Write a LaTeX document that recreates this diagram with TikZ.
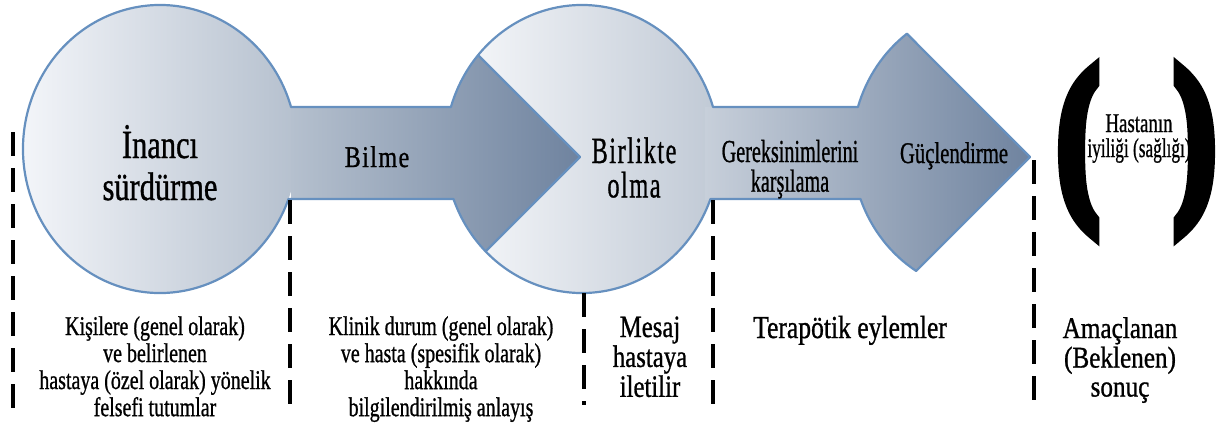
\documentclass[tikz,border=0pt]{standalone}
\usepackage{fontspec}
\usepackage{graphicx}
\setmainfont[FakeBold=1]{Liberation Serif}
\newfontfamily\spacedfont[LetterSpace=6,FakeBold=1]{Liberation Serif}
\newfontfamily\parenfont[FakeBold=10]{Liberation Serif}
\definecolor{outc}{HTML}{6690BF}
\definecolor{eAL}{HTML}{F3F5F9}
\definecolor{eAR}{HTML}{B5C0CE}
\definecolor{eBL}{HTML}{F9FAFC}
\definecolor{eBR}{HTML}{C0C9D5}
\definecolor{bAL}{HTML}{B5C0CE}
\definecolor{bAR}{HTML}{6F839F}
\definecolor{bBL}{HTML}{C7CFDA}
\definecolor{bBR}{HTML}{6F839F}
\newcommand{\lbl}[5][]{\scalebox{#2}[1]{#1\fontsize{#3}{#4}\selectfont\begin{tabular}[t]{@{}c@{}}#5\end{tabular}}}
\begin{document}
\begin{tikzpicture}[x=1pt,y=-1pt,
  outl/.style={draw=outc, line width=2.2pt, line join=round},
  vdash/.style={black, line width=3.4pt, dash pattern=on 24pt off 12pt},
  txt/.style={inner sep=0pt, anchor=base, text=black}]
\useasboundingbox (0,0) rectangle (1218,442);
% fills
\shade[left color=eAL, right color=eAR] (160,149) ellipse [x radius=137, y radius=144];
\shade[left color=eBL, right color=eBR] (582,149) ellipse [x radius=137, y radius=144];
\begin{scope}
  \clip (291,107) rectangle (470,199);
  \shade[left color=bAL, right color=bAR] (291,0) rectangle (580,300);
\end{scope}
\begin{scope}
  \clip (582,149) ellipse [x radius=137, y radius=144];
  \clip (580,157) -- (380,-43) -- (380,357) -- cycle;
  \shade[left color=bAL, right color=bAR] (291,0) rectangle (580,300);
\end{scope}
\begin{scope}
  \clip (705,107) rectangle (875,199);
  \shade[left color=bBL, right color=bBR] (705,0) rectangle (1030,300);
\end{scope}
\begin{scope}
  \clip (989,149) ellipse [x radius=137, y radius=144];
  \clip (1030,157) -- (830,-43) -- (830,357) -- cycle;
  \shade[left color=bBL, right color=bBR] (705,0) rectangle (1030,300);
\end{scope}
% outline
\coordinate (tipA) at (580,157);
\coordinate (tipB) at (1030,157);
\draw[outl] (291.04,107) arc[start angle=-16.96, end angle=-339.68, x radius=137, y radius=144]
  -- (453.5,199) arc[start angle=159.68, end angle=20.32, x radius=137, y radius=144]
  -- (860.5,199) arc[start angle=159.68, end angle=122.1, x radius=137, y radius=144]
  -- (tipB) -- (906.9,33.7) arc[start angle=233.2, end angle=196.96, x radius=137, y radius=144]
  -- (713.0,107) arc[start angle=-16.96, end angle=-163.04, x radius=137, y radius=144]
  -- cycle;
\coordinate (hAu) at (478.1,55.1);
\coordinate (hAl) at (485.6,251.4);
\draw[outl] (hAu) -- (tipA) -- (hAl);
% dashed separators
\coordinate (d1t) at (13,132);   \coordinate (d1b) at (13,412);
\coordinate (d2t) at (290,200);  \coordinate (d2b) at (290,412);
\coordinate (d3t) at (584,293);  \coordinate (d3b) at (584,405);
\coordinate (d4t) at (713,200);  \coordinate (d4b) at (713,405);
\coordinate (d5t) at (1034,160); \coordinate (d5b) at (1034,405);
\draw[vdash] (d1t) -- (d1b);
\draw[vdash] (d2t) -- (d2b);
\draw[vdash] (d3t) -- (d3b);
\draw[vdash] (d4t) -- (d4b);
\draw[vdash] (d5t) -- (d5b);
% top labels
\node[txt] (inanci) at (160,158) {\lbl{0.76}{40}{42}{İnancı\\sürdürme}};
\node[txt] (bilme) at (377,167) {\lbl[\spacedfont]{0.8}{30}{30}{Bilme}};
\node[txt] (birlikte) at (634,163) {\lbl[\spacedfont]{0.66}{37}{29}{Birlikte\\olma}};
\node[txt] (gerek) at (790,162) {\lbl{0.63}{32}{25}{Gereksinimlerini\\karşılama}};
\node[txt] (guc) at (954,163) {\lbl{0.69}{30}{30}{Güçlendirme}};
\node[txt] (lpar) at (1078,194) {\lbl[\parenfont\bfseries]{0.66}{176}{176}{(}};
\node[txt] (rpar) at (1195,194) {\lbl[\parenfont\bfseries]{0.66}{176}{176}{)}};
\node[txt] (hasta1) at (1139,132) {\lbl{0.7}{27}{25}{Hastanın}};
\node[txt] (hasta2) at (1139,157) {\lbl{0.64}{27}{25}{iyiliği (sağlığı)}};
% bottom labels
\node[txt] (alt1) at (155,335) {\lbl{0.74}{27}{27}{Kişilere (genel olarak)\\ve belirlenen\\hastaya (özel olarak) yönelik\\felsefi tutumlar}};
\node[txt] (alt2) at (441,335) {\lbl{0.74}{27}{27}{Klinik durum (genel olarak)\\ve hasta (spesifik olarak)\\hakkında\\bilgilendirilmiş anlayış}};
\node[txt] (alt3) at (650,337) {\lbl{0.8}{31}{28}{Mesaj\\hastaya\\iletilir}};
\node[txt] (alt4) at (850,338) {\lbl{0.8}{32}{28}{Terapötik eylemler}};
\node[txt] (alt5) at (1120,338) {\lbl{0.84}{30}{29}{Amaçlanan\\(Beklenen)\\sonuç}};
\end{tikzpicture}
\end{document}
